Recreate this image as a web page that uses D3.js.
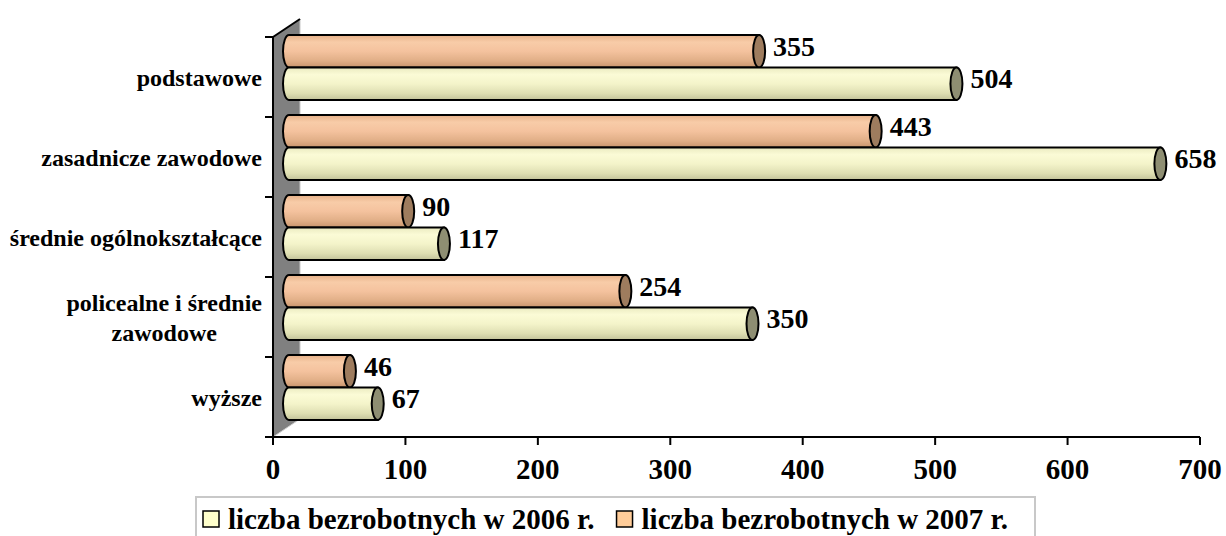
<!DOCTYPE html>
<html>
<head>
<meta charset="utf-8">
<script src="https://cdn.jsdelivr.net/npm/d3@7"></script>
<style>
  html, body { margin: 0; padding: 0; background: #fff; }
</style>
</head>
<body>
<div id="chart"></div>
<script>
// data
var categories = ["podstawowe", "zasadnicze zawodowe", "średnie ogólnokształcące",
                  "policealne i średnie zawodowe", "wyższe"]
var values2006 = [504, 658, 117, 350, 67]
var values2007 = [355, 443, 90, 254, 46]
var seriesNames = ["liczba bezrobotnych w 2006 r.", "liczba bezrobotnych w 2007 r."]
var xTicks = [0, 100, 200, 300, 400, 500, 600, 700]

var width = 1226, height = 536
var depthX = 27, depthY = -18      // 3d wall offset
var barShiftX = 16, barShiftY = -9.5

var svg = d3.select("#chart").append("svg")
  .attr("width", width).attr("height", height)
  .attr("font-family", "'Liberation Serif', 'Times New Roman', 'DejaVu Serif', serif")
  .attr("font-weight", "bold")

var defs = svg.append("defs")
function grad(id, stops) {
  var g = defs.append("linearGradient").attr("id", id)
    .attr("x1", 0).attr("y1", 0).attr("x2", 0).attr("y2", 1)
  stops.forEach(function(s) {
    g.append("stop").attr("offset", s[0]).attr("stop-color", s[1])
  })
}
grad("g2007", [["0%", "#E6B088"], ["22%", "#F8CCA8"], ["50%", "#F4C29E"], ["80%", "#E0AE86"], ["100%", "#C8946C"]])
grad("g2006", [["0%", "#EAEAC0"], ["22%", "#FBFBD6"], ["50%", "#F4F4CA"], ["80%", "#DEDEB2"], ["100%", "#C2C29A"]])

var series = [
  { key: "2007", values: values2007, fill: "url(#g2007)", cap: "#9E7C5E" },
  { key: "2006", values: values2006, fill: "url(#g2006)", cap: "#8E8E72" }
]

var x = d3.scaleLinear().domain([0, 700]).range([273, 1200])
var y = d3.scaleBand().domain(categories).range([37, 437]).paddingInner(0.1875).paddingOuter(0.09375)
var yInner = d3.scaleBand().domain(series.map(function(s) { return s.key })).range([0, y.bandwidth()])

var x0 = x(0), yTop = 37, yBot = 437

// side wall (grey) and back wall edge
svg.append("polygon")
  .attr("points", [[x0, yTop], [x0 + depthX, yTop + depthY], [x0 + depthX, yBot + depthY], [x0, yBot]].join(" "))
  .attr("fill", "#808080")
svg.append("line")
  .attr("x1", x0 + depthX).attr("y1", yTop + depthY).attr("x2", x0 + depthX).attr("y2", yBot + depthY)
  .attr("stroke", "#c8c8c8").attr("stroke-width", 1)
svg.append("line")
  .attr("x1", x0).attr("y1", yBot).attr("x2", x0 + depthX).attr("y2", yBot + depthY)
  .attr("stroke", "#d0d0d0").attr("stroke-width", 1)
svg.append("line")
  .attr("x1", x0).attr("y1", yTop).attr("x2", x0 + depthX).attr("y2", yTop + depthY)
  .attr("stroke", "#000").attr("stroke-width", 2)

// bars as cylinders
var bars = svg.append("g")
series.forEach(function(s) {
  s.values.forEach(function(v, i) {
    var t = y(categories[i]) + yInner(s.key) + barShiftY
      , h = yInner.bandwidth()
      , b = t + h
      , ry = h / 2
      , rx = 6
      , xs = x(0) + barShiftX
      , xe = x(v) + barShiftX

    bars.append("path")
      .attr("d", "M" + xe + "," + t + " L" + xs + "," + t +
                 " A" + rx + "," + ry + " 0 0 0 " + xs + "," + b +
                 " L" + xe + "," + b + " Z")
      .attr("fill", s.fill)
      .attr("stroke", "#000").attr("stroke-width", 2)

    bars.append("ellipse")
      .attr("cx", xe).attr("cy", t + ry)
      .attr("rx", rx).attr("ry", ry)
      .attr("fill", s.cap)
      .attr("stroke", "#000").attr("stroke-width", 2)

    bars.append("text")
      .attr("x", xe + 14).attr("y", t + ry + 4.5)
      .attr("font-size", 28)
      .text(v)
  })
})

// axes
svg.append("line")
  .attr("x1", x0).attr("y1", yTop).attr("x2", x0).attr("y2", yBot)
  .attr("stroke", "#000").attr("stroke-width", 2)
svg.append("line")
  .attr("x1", x0).attr("y1", yBot).attr("x2", x(700)).attr("y2", yBot)
  .attr("stroke", "#000").attr("stroke-width", 2)

var catTicks = categories.map(function(c) { return y(c) - y.step() * y.paddingInner() / 2 })
catTicks.push(yBot)
catTicks.forEach(function(ty) {
  svg.append("line")
    .attr("x1", x0 - 8).attr("y1", ty).attr("x2", x0).attr("y2", ty)
    .attr("stroke", "#000").attr("stroke-width", 2)
})

xTicks.forEach(function(tv) {
  svg.append("line")
    .attr("x1", x(tv)).attr("y1", yBot).attr("x2", x(tv)).attr("y2", yBot + 8)
    .attr("stroke", "#000").attr("stroke-width", 2)
  svg.append("text")
    .attr("x", x(tv)).attr("y", 479)
    .attr("text-anchor", "middle")
    .attr("font-size", 29)
    .text(tv)
})

// category labels, wrapped to fit left of the axis
var labelRight = 262, maxW = 258
categories.forEach(function(c, i) {
  var cy = y(c) - y.step() * y.paddingInner() / 2 + y.step() / 2
    , words = c.split(" ")
    , lines = []
    , cur = ""
    , probe = svg.append("text").attr("font-size", 24)

  words.forEach(function(w) {
    var test = cur ? cur + " " + w : w
    probe.text(test)
    if (probe.node().getComputedTextLength() > maxW && cur) {
      lines.push(cur)
      cur = w
    } else {
      cur = test
    }
  })
  lines.push(cur)
  var blockW = 0
  lines.forEach(function(l) {
    probe.text(l)
    blockW = Math.max(blockW, probe.node().getComputedTextLength())
  })
  probe.remove()

  var lh = 30
    , base = cy + 9 - (lines.length - 1) * lh / 2
  lines.forEach(function(l, k) {
    svg.append("text")
      .attr("x", labelRight - blockW / 2).attr("y", base + k * lh)
      .attr("text-anchor", "middle")
      .attr("font-size", 24)
      .text(l)
  })
})

// legend
var legend = svg.append("g")
legend.append("rect")
  .attr("x", 196).attr("y", 497).attr("width", 839).attr("height", 50)
  .attr("fill", "#fff").attr("stroke", "#c8c8c8").attr("stroke-width", 2)

var legendColors = ["#FFFFCC", "#FFCC99"]
  , lx = 203
seriesNames.forEach(function(name, i) {
  legend.append("rect")
    .attr("x", lx).attr("y", 511).attr("width", 16).attr("height", 16)
    .attr("fill", legendColors[i]).attr("stroke", "#000").attr("stroke-width", 1.5)
  var t = legend.append("text")
    .attr("x", lx + 25).attr("y", 529)
    .attr("font-size", 29)
    .text(name)
  lx += 25 + t.node().getComputedTextLength() + 22
})
</script>
</body>
</html>
